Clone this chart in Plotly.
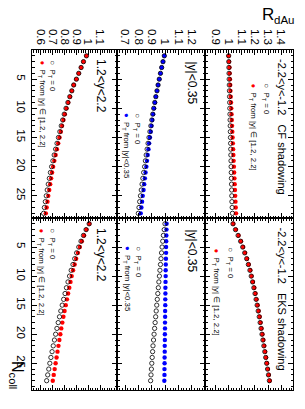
import plotly.graph_objects as go
import numpy as np

W, H = 305, 409

# ---------------- data ----------------
ncoll = list(range(1, 29))

# CF shadowing
cf_fwd_pt = [0.985,0.96,0.94,0.92,0.90,0.878,0.862,0.846,0.831,0.816,0.802,0.790,0.779,0.768,0.757,0.746,0.735,0.724,0.713,0.703,0.694,0.686,0.678,0.670,0.662,0.655,0.648,0.641]
cf_fwd_0 = [0.985,0.96,0.94,0.92,0.90,0.877,0.861,0.844,0.828,0.812,0.797,0.784,0.772,0.760,0.748,0.736,0.724,0.712,0.701,0.690,0.680,0.671,0.662,0.653,0.645,0.637,0.629,0.622]
cf_mid_pt = [0.995,0.985,0.975,0.966,0.957,0.948,0.940,0.932,0.925,0.918,0.911,0.905,0.899,0.893,0.887,0.881,0.876,0.870,0.865,0.860,0.854,0.849,0.844,0.839,0.833,0.828,0.823,0.818]
cf_mid_0 = [0.995,0.985,0.975,0.966,0.957,0.948,0.940,0.931,0.923,0.915,0.908,0.901,0.894,0.887,0.880,0.873,0.866,0.859,0.853,0.847,0.840,0.834,0.828,0.822,0.816,0.810,0.805,0.800]
cf_bwd_pt = [1.000,1.003,1.006,1.008,1.010,1.012,1.014,1.016,1.018,1.020,1.022,1.024,1.026,1.028,1.030,1.032,1.034,1.036,1.038,1.040,1.042,1.044,1.046,1.048,1.050,1.052,1.054,1.056]
cf_bwd_0 = [1.000,1.001,1.002,1.003,1.004,1.005,1.006,1.007,1.008,1.009,1.010,1.011,1.012,1.013,1.014,1.015,1.016,1.017,1.018,1.019,1.020,1.021,1.022,1.023,1.024,1.025,1.027,1.029]

# EKS shadowing
eks_fwd_pt = [1.010,0.985,0.965,0.946,0.929,0.913,0.898,0.885,0.872,0.860,0.850,0.840,0.830,0.820,0.810,0.800,0.790,0.781,0.772,0.764,0.756,0.748,0.740,0.732,0.724,0.716,0.708,0.700]
eks_fwd_0 = [1.008,0.982,0.960,0.939,0.920,0.902,0.886,0.871,0.856,0.842,0.829,0.816,0.804,0.792,0.780,0.768,0.757,0.746,0.735,0.724,0.714,0.704,0.694,0.684,0.675,0.666,0.657,0.648]
eks_mid_pt = [1.012,1.011,1.010,1.009,1.008,1.008,1.007,1.006,1.005,1.005,1.004,1.003,1.003,1.002,1.002,1.001,1.001,1.000,1.000,0.999,0.999,0.998,0.998,0.997,0.997,0.996,0.996,0.995]
eks_mid_0 = [1.000,0.994,0.988,0.983,0.978,0.974,0.970,0.966,0.962,0.958,0.954,0.950,0.946,0.942,0.938,0.934,0.930,0.926,0.922,0.918,0.914,0.910,0.907,0.904,0.901,0.898,0.895,0.892]
eks_bwd_pt = [1.035,1.055,1.075,1.094,1.110,1.125,1.140,1.153,1.165,1.175,1.185,1.195,1.204,1.212,1.220,1.228,1.236,1.243,1.250,1.257,1.264,1.271,1.278,1.285,1.292,1.299,1.306,1.313]
eks_bwd_0 = [1.033,1.052,1.072,1.091,1.107,1.122,1.137,1.150,1.162,1.172,1.182,1.192,1.201,1.209,1.217,1.225,1.233,1.240,1.247,1.254,1.261,1.268,1.275,1.282,1.289,1.296,1.303,1.310]

# tick labels
r_ticks_fwd = [0.6, 0.7, 0.8, 0.9, 1.0, 1.1]
r_labels_fwd = ["0.6", "0.7", "0.8", "0.9", "1", "1.1"]
r_ticks_mid = [0.7, 0.8, 0.9, 1.0, 1.1, 1.2]
r_labels_mid = ["0.7", "0.8", "0.9", "1", "1.1", "1.2"]
r_ticks_bwd = [0.9, 1.0, 1.1, 1.2, 1.3, 1.4]
r_labels_bwd = ["0.9", "1", "1.1", "1.2", "1.3", "1.4"]
n_ticks = [5, 10, 15, 20, 25]
n_labels = ["5", "10", "15", "20", "25"]

rap_labels = ["1.2<y<2.2", "|y|<0.35", "-2.2<y<-1.2"]
model_labels = ["CF shadowing", "EKS shadowing"]
leg_open = "P<sub>T</sub> = 0"
leg_filled = ["P<sub>T</sub> from |y| \u2208 [1.2, 2.2]", "P<sub>T</sub> from |y|<0.35", "P<sub>T</sub> from |y| \u2208 [1.2, 2.2]"]

# ---------------- layout geometry (pixels) ----------------
col_px = [(32, 117), (117, 205), (205, 293)]
row_px = [(50, 218), (218, 390)]
r_ranges = [(0.524, 1.244), (0.64, 1.30), (0.82, 1.49)]
n_ranges = [(0, 28.8), (0, 29.6)]

series = {
    (0, 0): (cf_fwd_pt, cf_fwd_0, "#ff0000"),
    (0, 1): (cf_mid_pt, cf_mid_0, "#0000ff"),
    (0, 2): (cf_bwd_pt, cf_bwd_0, "#ff0000"),
    (1, 0): (eks_fwd_pt, eks_fwd_0, "#ff0000"),
    (1, 1): (eks_mid_pt, eks_mid_0, "#0000ff"),
    (1, 2): (eks_bwd_pt, eks_bwd_0, "#ff0000"),
}
r_tick_sets = [(r_ticks_fwd, r_labels_fwd), (r_ticks_mid, r_labels_mid), (r_ticks_bwd, r_labels_bwd)]

FONT = "Liberation Sans, Arial, Helvetica, sans-serif"

def px2x(px):
    return px / W

def px2y(py):
    return 1 - py / H

fig = go.Figure()
layout = dict(
    width=W, height=H,
    margin=dict(l=0, r=0, t=0, b=0),
    paper_bgcolor="white", plot_bgcolor="white",
    showlegend=False,
    font=dict(family=FONT, color="black"),
)

idx = 0
for r in range(2):
    for c in range(3):
        idx += 1
        xa = "xaxis" if idx == 1 else f"xaxis{idx}"
        ya = "yaxis" if idx == 1 else f"yaxis{idx}"
        xr = "x" if idx == 1 else f"x{idx}"
        yr = "y" if idx == 1 else f"y{idx}"
        filled, opn, col = series[(r, c)]
        fig.add_trace(go.Scatter(
            x=filled, y=ncoll, mode="markers", xaxis=xr, yaxis=yr,
            marker=dict(symbol="circle", size=4.4, color=col, line=dict(width=0)),
        ))
        fig.add_trace(go.Scatter(
            x=opn, y=ncoll, mode="markers", xaxis=xr, yaxis=yr,
            marker=dict(symbol="circle-open", size=4.3, color="black", line=dict(width=0.8)),
        ))
        tv, tt = r_tick_sets[c]
        lo, hi = r_ranges[c]
        minor_r = [round(v, 3) for v in np.arange(np.ceil(lo / 0.02) * 0.02, hi, 0.02)]
        layout[xa] = dict(
            domain=[px2x(col_px[c][0]), px2x(col_px[c][1])],
            range=[lo, hi], anchor=yr, side="top",
            tickmode="array", tickvals=tv, ticktext=tt,
            showticklabels=(r == 0), tickangle=90,
            tickfont=dict(size=11.5, family=FONT, color="black"),
            ticks="inside", ticklen=5, tickwidth=1, tickcolor="black",
            minor=dict(tickmode="array", tickvals=minor_r, ticks="inside", ticklen=2.5, tickwidth=1, tickcolor="black"),
            showline=True, linecolor="black", linewidth=1, mirror="ticks",
            showgrid=False, zeroline=False,
        )
        nlo, nhi = n_ranges[r]
        layout[ya] = dict(
            domain=[px2y(row_px[r][1]), px2y(row_px[r][0])],
            range=[nhi, nlo], anchor=xr, side="left",
            tickmode="array", tickvals=n_ticks, ticktext=n_labels,
            showticklabels=(c == 0), tickangle=90,
            tickfont=dict(size=11.5, family=FONT, color="black"),
            ticks="inside", ticklen=5, tickwidth=1, tickcolor="black",
            minor=dict(tickmode="array", tickvals=list(range(1, int(nhi) + 1)), ticks="inside", ticklen=2.5, tickwidth=1, tickcolor="black"),
            showline=True, linecolor="black", linewidth=1, mirror="ticks",
            showgrid=False, zeroline=False,
        )

annotations = []

def add_text(text, px, py, size, xanchor="center", yanchor="top", angle=90):
    annotations.append(dict(
        text=text, x=px2x(px), y=px2y(py), xref="paper", yref="paper",
        xanchor=xanchor, yanchor=yanchor, textangle=angle, showarrow=False,
        font=dict(size=size, family=FONT, color="black"),
    ))

# panel labels
add_text(rap_labels[0], 101, 57, 12)
add_text(rap_labels[0], 101, 226, 12)
add_text(rap_labels[1], 191, 59, 12)
add_text(rap_labels[1], 191, 227, 12)
add_text(rap_labels[2] + "&nbsp;&nbsp;&nbsp;" + model_labels[0], 282, 57, 11)
add_text(rap_labels[2] + "&nbsp;&nbsp;&nbsp;" + model_labels[1], 282, 225, 11)

# legends: (open x, filled x, y start)
leg_pos = {
    (0, 0): (52, 42, 58),
    (0, 1): (137, 126, 111),
    (0, 2): (265, 252, 81),
    (1, 0): (52, 41, 226),
    (1, 1): (138, 127, 244),
    (1, 2): (230, 216, 246),
}
for (r, c), (xo, xf, ys) in leg_pos.items():
    colr = series[(r, c)][2]
    add_text("\u25CB&nbsp;&nbsp;" + leg_open, xo, ys, 7.8)
    add_text(f"<span style='color:{colr}'>\u25CF</span>&nbsp;&nbsp;" + leg_filled[c], xf, ys, 7.8)

# axis titles (R_dAu drawn as main letter + subscript text)
add_text("R", 260, 14, 17, xanchor="left", yanchor="middle", angle=0)
add_text("dAu", 272, 20, 11.5, xanchor="left", yanchor="middle", angle=0)
annotations.append(dict(
    text="N<sub>coll</sub>", x=px2x(17), y=px2y(359), xref="paper", yref="paper",
    xanchor="center", yanchor="top", textangle=90, showarrow=False,
    font=dict(size=16, family=FONT, color="black"),
))

layout["annotations"] = annotations
fig.update_layout(**layout)
fig.write_html("out.html", config={"displayModeBar": False},
               post_script="document.body.style.margin='0px';")
